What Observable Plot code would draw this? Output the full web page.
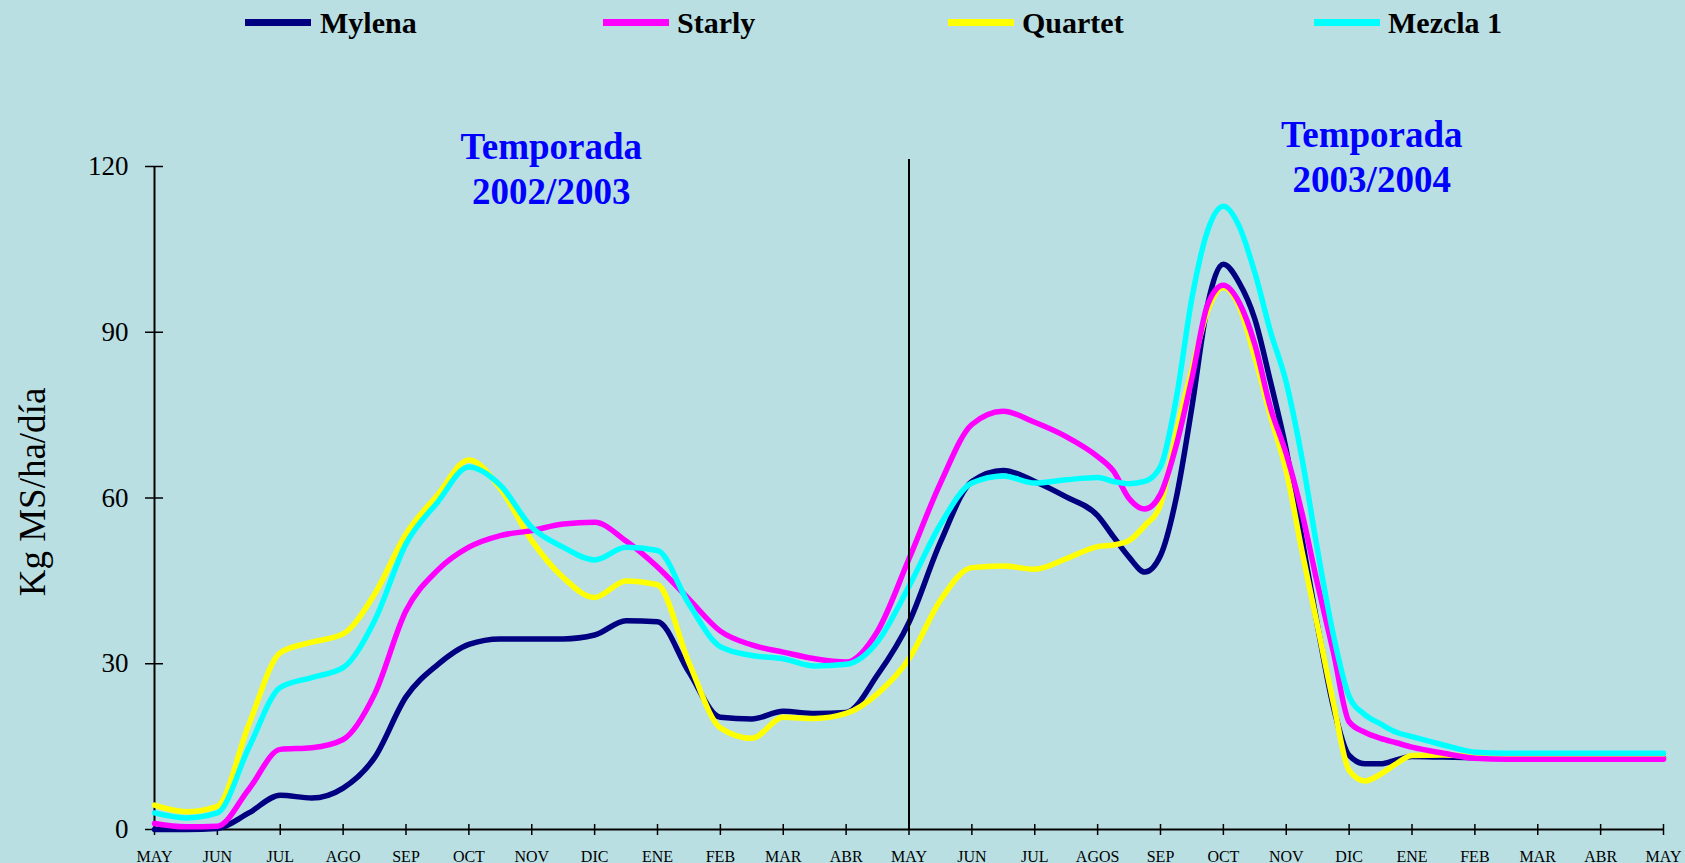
<!DOCTYPE html>
<html>
<head>
<meta charset="utf-8">
<script src="https://cdn.jsdelivr.net/npm/d3@7"></script>
<script src="https://cdn.jsdelivr.net/npm/@observablehq/plot@0.6"></script>
<style>
  html, body { margin: 0; padding: 0; background: #badfe3; }
  #legend { position: relative; width: 1685px; height: 50px; font-family: "Liberation Serif", "Times New Roman", serif; font-weight: bold; font-size: 30px; color: #000; }
  #legend .sw { position: absolute; top: 19px; width: 66px; height: 7px; }
  #legend .lb { position: absolute; top: 8px; line-height: 30px; white-space: nowrap; }
  #chart svg { display: block; }
</style>
</head>
<body>
<div id="legend"></div>
<div id="chart"></div>
<script>
// ---- data ----
const seriesNames = ["Mylena", "Starly", "Quartet", "Mezcla 1"];
const seriesColors = ["#000080", "#ff00ff", "#ffff00", "#00ffff"];
const drawOrder = ["Mylena", "Quartet", "Starly", "Mezcla 1"];
const monthLabels = ["MAY","JUN","JUL","AGO","SEP","OCT","NOV","DIC","ENE","FEB","MAR","ABR",
                     "MAY","JUN","JUL","AGOS","SEP","OCT","NOV","DIC","ENE","FEB","MAR","ABR","MAY"];
const yTicks = [0, 30, 60, 90, 120];
const yTitle = "Kg MS/ha/día";
const seasonBoundary = [12];
const seasonLabels = ["Temporada\n2002/2003", "Temporada\n2003/2004"];
const seasonLabelMonth = [6.31, 19.36];
const seasonLabelValue = [127.2, 129.3];

// month index (0 = May 2002 ... 24 = May 2004)
const months = [0,0.5,1,1.5,2,2.5,3,3.5,4,4.5,5,5.5,6,6.5,7,7.5,8,8.5,9,9.5,10,10.5,11,11.5,12,12.5,13,13.5,14,14.5,15,
  15.25,15.5,15.75,16,16.25,16.5,16.75,17,17.25,17.5,17.75,18,18.25,18.5,18.75,19,19.25,19.5,19.75,20,
  20.5,21,21.5,22,22.5,23,23.5,24];

const mylena = [0,0,0.2,3,6.2,5.7,7.5,13,24,29.8,33.5,34.5,34.5,34.5,35.2,37.8,37.6,28.5,20.3,20,21.4,21,21.2,28,37.5,52,63,65,63,60.2,56.8,
  53,49.3,46.6,49.6,60,76.5,95,102.3,99,92.4,81,68.7,52.7,36.7,22.2,13.4,11.9,11.9,12.6,13.2,
  13.1,13,12.9,12.9,12.9,12.9,12.9,12.9];
const starly = [1.1,0.5,0.6,7.3,14.5,14.8,16.3,24.5,39.6,46.9,51.1,53.2,54.1,55.3,55.6,52.2,47.5,41.7,35.9,33.4,32.1,30.9,30.3,35.9,49,62.7,73.3,75.7,73.7,71.1,67.5,
  64.9,59.9,58,60.7,69.5,81.7,95,98.5,95.4,87.8,76.3,68,57.3,44.3,32.1,19.5,17.6,16.5,15.7,14.9,
  13.8,12.9,12.7,12.7,12.7,12.7,12.7,12.7];
const quartet = [4.4,3.2,4.2,19,32,33.9,35.4,42.6,53.5,60.5,66.9,61.7,52.3,45.6,42,45,44.3,30.2,18.4,16.5,20.3,20.1,21,24.6,30.9,41.5,47.4,47.7,47.1,49,51.2,
  51.5,52.3,55,58.8,71.8,83.2,93.9,98.1,94.7,85.5,74.8,64.9,50.4,36.7,22.9,10.7,8.8,10,11.9,13.4,
  13.5,13.2,12.9,12.8,12.8,12.8,12.8,12.8];
const mezcla = [3,2.1,3,14.8,25.7,27.5,29.3,37.8,51.7,59.2,65.6,62.3,54.7,51.1,48.8,51.1,50.5,40.8,33.1,31.5,30.9,29.6,29.9,34,44,55.2,62.7,64,62.7,63.3,63.7,
  63,62.6,63,65.7,78,96.2,108.4,112.8,109.2,100.8,90.1,80.9,67.2,50.4,35.2,24.1,20.8,19.1,17.6,16.8,
  15.3,14,13.8,13.8,13.8,13.8,13.8,13.8];

const seriesValues = {"Mylena": mylena, "Starly": starly, "Quartet": quartet, "Mezcla 1": mezcla};

// ---- legend (HTML, above the SVG) ----
const swatchLeft = [245, 603, 948, 1314];
const textLeft = [320, 677, 1022, 1388];
const legend = document.getElementById("legend");
seriesNames.forEach((name, i) => {
  const sw = document.createElement("div");
  sw.className = "sw";
  sw.style.left = swatchLeft[i] + "px";
  sw.style.background = seriesColors[i];
  legend.appendChild(sw);
  const lb = document.createElement("div");
  lb.className = "lb";
  lb.style.left = textLeft[i] + "px";
  lb.textContent = name;
  legend.appendChild(lb);
});

// ---- long table ----
const table = [];
for (const name of drawOrder) {
  const vals = seriesValues[name];
  months.forEach((m, i) => table.push({series: name, m, v: vals[i]}));
}
const tickMonths = monthLabels.map((_, i) => i);
const annotations = seasonLabels.map((t, i) => ({text: t, m: seasonLabelMonth[i], v: seasonLabelValue[i]}));

const serif = "'Liberation Serif', 'Times New Roman', serif";

const chart = Plot.plot({
  width: 1685,
  height: 813,
  marginLeft: 154,
  marginRight: 22,
  marginTop: 116,
  marginBottom: 34,
  style: {background: "#badfe3", fontFamily: serif, color: "black", overflow: "visible"},
  x: {domain: [0, 24], label: null},
  y: {domain: [0, 120], label: null},
  color: {domain: seriesNames, range: seriesColors},
  marks: [
    Plot.ruleY([0], {stroke: "black", strokeWidth: 2}),
    Plot.ruleX([0], {stroke: "black", strokeWidth: 2}),
    Plot.axisX({ticks: tickMonths, tickSize: 11, dy: -5, fill: "none", stroke: "black", strokeWidth: 1.5, label: null}),
    Plot.axisX({ticks: tickMonths, tickFormat: (d) => monthLabels[d], tickSize: 0, tickPadding: 21, stroke: "none", fill: "black", fontSize: 16, label: null}),
    Plot.axisY({ticks: yTicks, tickSize: 18, dx: 9, fill: "none", stroke: "black", strokeWidth: 1.5, label: null}),
    Plot.axisY({ticks: yTicks, tickSize: 0, tickPadding: 26, stroke: "none", fill: "black", fontSize: 27, label: null}),
    Plot.line(table, {x: "m", y: "v", z: "series", stroke: "series", strokeWidth: 5.5, curve: "monotone-x"}),
    Plot.ruleX(seasonBoundary, {stroke: "black", strokeWidth: 2, insetTop: -7}),
    Plot.text(annotations, {x: "m", y: "v", text: "text", fill: "#0000ff", fontWeight: "bold", fontSize: 37, lineAnchor: "top", lineHeight: 1.22, textAnchor: "middle", fontFamily: serif}),
    Plot.text([yTitle], {frameAnchor: "left", dx: -121, dy: -6, rotate: -90, fontSize: 37, fill: "black", textAnchor: "middle", lineAnchor: "middle", fontFamily: serif})
  ]
});
document.getElementById("chart").appendChild(chart);
</script>
</body>
</html>
